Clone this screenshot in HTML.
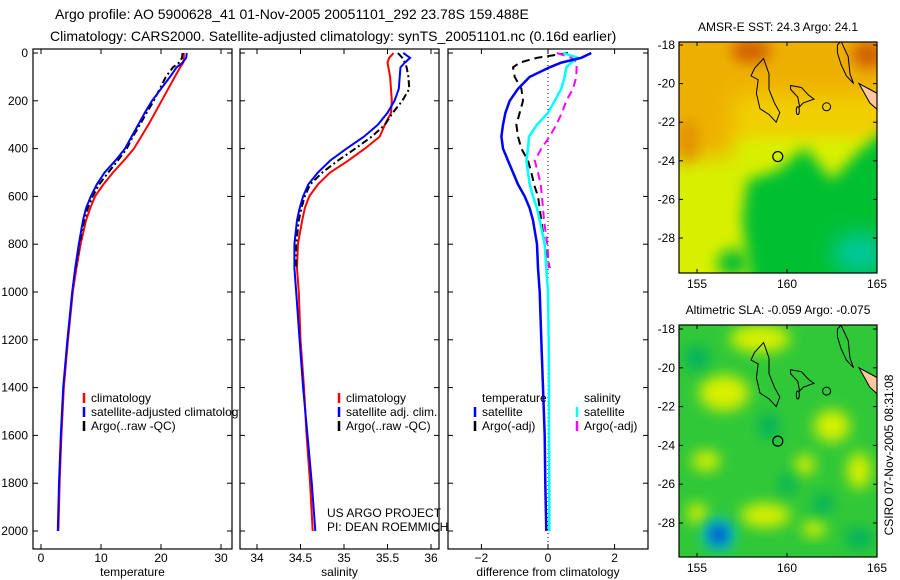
<!DOCTYPE html>
<html><head><meta charset="utf-8"><style>
body{margin:0;background:#fff;}
svg{display:block;font-family:"Liberation Sans",sans-serif;}
</style></head><body>
<svg id="chart" width="900" height="580" viewBox="0 0 900 580">
<defs>
<filter id="blur6" x="-50%" y="-50%" width="200%" height="200%"><feGaussianBlur stdDeviation="7"/></filter>
<filter id="blur10" x="-50%" y="-50%" width="200%" height="200%"><feGaussianBlur stdDeviation="11"/></filter>
<clipPath id="clipTop"><rect x="679" y="42" width="198" height="231"/></clipPath>
<clipPath id="clipBot"><rect x="679" y="325" width="198" height="232"/></clipPath>
<clipPath id="clipLeg1"><rect x="33" y="380" width="206" height="60"/></clipPath>
</defs>
<text x="55" y="19" font-size="14">Argo profile: AO 5900628_41 01-Nov-2005 20051101_292 23.78S 159.488E</text>
<text x="50" y="41" font-size="14">Climatology: CARS2000. Satellite-adjusted climatology: synTS_20051101.nc (0.16d earlier)</text>
<g id="g"></g>
</svg>
<script>
// ---- data ----
const depths = [0,20,40,60,100,150,200,250,300,350,400,450,500,550,600,650,700,800,900,1000,1200,1400,1600,1800,2000];
const tempClim = [23.8,23.8,23.7,23.2,22.3,21.2,20.1,19.0,17.9,16.7,15.5,13.8,12.0,10.4,9.0,8.2,7.5,6.6,5.9,5.3,4.5,3.8,3.4,3.1,2.9];
const tempSat  = [24.3,24.2,23.6,22.6,21.5,20.0,18.5,17.3,16.2,15.1,14.0,12.4,10.6,9.3,8.3,7.5,7.0,6.3,5.7,5.2,4.4,3.7,3.3,3.0,2.8];
const argoDepths = [0,20,40,60,100,150,200,250,300,350,400,450,500,550,600,650,700,800,900];
const tempArgo = [23.6,23.5,23.0,22.0,20.8,19.8,18.8,17.6,16.5,15.3,14.3,12.8,11.2,9.7,8.6,7.8,7.2,6.4,5.8];
const salClim = [35.57,35.52,35.5,35.51,35.53,35.54,35.55,35.54,35.47,35.41,35.24,35.05,34.84,34.7,34.6,34.55,34.52,34.47,34.46,34.48,34.5,34.54,34.57,34.61,34.64];
const salSat  = [35.68,35.76,35.7,35.65,35.64,35.63,35.58,35.5,35.39,35.23,35.03,34.84,34.7,34.59,34.53,34.49,34.46,34.43,34.43,34.45,34.49,34.53,34.58,34.63,34.67];
const salArgo = [35.62,35.67,35.7,35.72,35.74,35.75,35.67,35.56,35.47,35.32,35.13,34.93,34.75,34.61,34.55,34.51,34.48,34.45,34.45];
const dTempSat = [1.3,1.0,0.4,0.05,-0.55,-0.9,-1.15,-1.28,-1.35,-1.4,-1.35,-1.2,-1.05,-0.9,-0.7,-0.55,-0.45,-0.33,-0.3,-0.25,-0.2,-0.15,-0.1,-0.08,-0.05];
const dSalSat  = [0.45,0.9,0.7,0.55,0.5,0.4,0.2,0.0,-0.33,-0.57,-0.6,-0.65,-0.6,-0.55,-0.45,-0.33,-0.25,-0.1,-0.05,0.0,0.02,0.03,0.03,0.04,0.04];
const dTempArgo = [0.6,-0.33,-0.85,-1.05,-1.0,-0.8,-0.75,-0.85,-0.95,-0.9,-0.8,-0.6,-0.5,-0.42,-0.3,-0.25,-0.2,-0.1,0.05];
const dSalArgo = [0.27,0.7,0.87,0.86,0.85,0.75,0.55,0.42,0.25,0.05,-0.2,-0.4,-0.3,-0.22,-0.18,-0.15,-0.12,-0.02,0.03];
const depthTicks = [0,200,400,600,800,1000,1200,1400,1600,1800,2000];
const tempTicks = [0,10,20,30];
const salTicks = [34,34.5,35,35.5,36];
const diffTicks = [-2,0,2];
const latTicks = [18,20,22,24,26,28];
const lonTicks = [155,160,165];

// ---- helpers ----
const NS="http://www.w3.org/2000/svg";
const G=document.getElementById('g');
function mk(tag,attrs,parent){const e=document.createElementNS(NS,tag);for(const k in attrs)e.setAttribute(k,attrs[k]);(parent||G).appendChild(e);return e;}
const yD=d=>53+0.239*d;
const panels=[
 {x0:33,x1:232,f:v=>41+6*v,ticks:tempTicks,label:'temperature',name:'temperature-panel'},
 {x0:240,x1:439,f:v=>257+87*(v-34),ticks:salTicks,label:'salinity',name:'salinity-panel'},
 {x0:448,x1:648,f:v=>548+33.3*v,ticks:diffTicks,label:'difference from climatology',name:'difference-panel'}
];
const TOP=49,BOT=549;
panels.forEach((p,i)=>{
  const r=mk('rect',{x:p.x0,y:TOP,width:p.x1-p.x0,height:BOT-TOP,fill:'none',stroke:'#000','stroke-width':1.2});
  
  
  p.ticks.forEach(t=>{const x=p.f(t);
    mk('line',{x1:x,x2:x,y1:BOT,y2:BOT-5,stroke:'#000'});
    mk('line',{x1:x,x2:x,y1:TOP,y2:TOP+5,stroke:'#000'});
    const tx=mk('text',{x:x,y:562,'font-size':12,'text-anchor':'middle'});tx.textContent=(t<0?'\u2212'+(-t):t);
    
    
  });
  const xl=mk('text',{x:(p.x0+p.x1)/2,y:576,'font-size':12,'text-anchor':'middle'});xl.textContent=p.label;
  
  
  depthTicks.forEach(d=>{const y=yD(d);
    mk('line',{x1:p.x0,x2:p.x0+5,y1:y,y2:y,stroke:'#000'});
    mk('line',{x1:p.x1,x2:p.x1-5,y1:y,y2:y,stroke:'#000'});
    if(i===0){const t=mk('text',{x:28,y:y+4,'font-size':12,'text-anchor':'end'});t.textContent=d;
      
      }
  });
});
const zl=mk('line',{x1:548,x2:548,y1:TOP,y2:BOT,stroke:'#000','stroke-dasharray':'1,3'});



function series(p,ds,vals,color,dash,name,w){
  const pts=ds.map((d,k)=>p.f(vals[k]).toFixed(1)+','+yD(d).toFixed(1)).join(' ');
  const l=mk('polyline',{points:pts,fill:'none',stroke:color,'stroke-width':w||2,'stroke-dasharray':dash||'none'});
  
  
}
series(panels[0],depths,tempClim,'#f00',null,'temp-climatology-line');
series(panels[0],argoDepths,tempArgo,'#000','7,3,2,3','temp-argo-line');
series(panels[0],depths,tempSat,'#00f',null,'temp-satellite-line');
series(panels[1],depths,salClim,'#f00',null,'sal-climatology-line');
series(panels[1],argoDepths,salArgo,'#000','7,3,2,3','sal-argo-line');
series(panels[1],depths,salSat,'#00f',null,'sal-satellite-line');
series(panels[2],argoDepths,dTempArgo,'#000','8,5','diff-temp-argo-line');
series(panels[2],argoDepths,dSalArgo,'#f0f','8,5','diff-sal-argo-line');
series(panels[2],depths,dSalSat,'#0ff',null,'diff-sal-satellite-line',2.5);
series(panels[2],depths,dTempSat,'#00f',null,'diff-temp-satellite-line',2.5);

function legend(x,y,color,txt,name,clip){
  const par=clip?mk('g',{'clip-path':'url(#'+clip+')'}):G;
  if(color){mk('line',{x1:x,x2:x,y1:y-9,y2:y+1,stroke:color,'stroke-width':2.5},par);}
  const t=mk('text',{x:x+7,y:y,'font-size':12},par);t.textContent=txt;
  
  
}
legend(84,402,'#f00','climatology','legend-climatology');
legend(84,416,'#00f','satellite-adjusted climatology','legend-satellite-adjusted','clipLeg1');
legend(84,430,'#000','Argo(..raw -QC)','legend-argo');
legend(339,402,'#f00','climatology','legend-climatology-sal');
legend(339,416,'#00f','satellite adj. clim.','legend-satellite-sal');
legend(339,430,'#000','Argo(..raw -QC)','legend-argo-sal');
legend(475,402,null,'temperature','legend-temperature-header');
legend(475,416,'#00f','satellite','legend-temp-satellite');
legend(475,430,'#000','Argo(-adj)','legend-temp-argo');
legend(577,402,null,'salinity','legend-salinity-header');
legend(577,416,'#0ff','satellite','legend-sal-satellite');
legend(577,430,'#f0f','Argo(-adj)','legend-sal-argo');
const t1=mk('text',{x:327,y:517,'font-size':12});t1.textContent='US ARGO PROJECT';


const t2=mk('text',{x:327,y:531,'font-size':12});t2.textContent='PI: DEAN ROEMMICH';



// ---- maps ----
const lonX=l=>679+(l-154)*18;
function buildMap(top,bot,clip,latY,kind,title,name){
  const g=mk('g',{'clip-path':'url(#'+clip+')'});
  
  
  if(kind==='sst'){
    mk('rect',{x:679,y:top,width:198,height:bot-top,fill:'#d8f000'},g);
    mk('rect',{x:660,y:top-20,width:240,height:latY(22.8)-top+20,fill:'#f0d000',filter:'url(#blur6)'},g);
    mk('rect',{x:660,y:top-20,width:240,height:latY(20.6)-top+20,fill:'#eeb000',filter:'url(#blur10)'},g);
    mk('rect',{x:660,y:top-20,width:lonX(157)-660,height:latY(23.8)-top+20,fill:'#eeb000',filter:'url(#blur10)'},g);
    mk('ellipse',{cx:lonX(158),cy:latY(18.3),rx:20,ry:12,fill:'#d06000',filter:'url(#blur6)'},g);
    mk('ellipse',{cx:lonX(164.5),cy:latY(18.5),rx:16,ry:14,fill:'#d06000',filter:'url(#blur6)'},g);
    mk('ellipse',{cx:lonX(154.5),cy:latY(23),rx:10,ry:22,fill:'#e09000',filter:'url(#blur6)'},g);
    mk('path',{d:`M${lonX(157.5)} ${latY(27)} L${lonX(157.8)} ${latY(25)} L${lonX(159.5)} ${latY(24.5)} L${lonX(161)} ${latY(23.3)} L${lonX(162.5)} ${latY(25)} L${lonX(164)} ${latY(23.5)} L${lonX(166)} ${latY(22)} L${lonX(166)} ${latY(30.5)} L${lonX(158)} ${latY(30.5)} Z`,fill:'#00c030',filter:'url(#blur6)'},g);
    mk('ellipse',{cx:lonX(157),cy:latY(29.3),rx:16,ry:14,fill:'#10c030',filter:'url(#blur6)'},g);
    mk('ellipse',{cx:lonX(164),cy:latY(28.8),rx:26,ry:20,fill:'#00c8a0',filter:'url(#blur10)'},g);
  } else {
    mk('rect',{x:679,y:top,width:198,height:bot-top,fill:'#30c838'},g);
    const yb=[[158.5,18.5,30,14],[156.5,21.3,25,18],[162.5,23,18,16],[164,25.3,12,18],[158.8,27.6,25,12],[155.5,24.8,14,10],[161,25,10,10],[155,27.5,10,10],[161.5,28.3,12,8]];
    yb.forEach(b=>mk('ellipse',{cx:lonX(b[0]),cy:latY(b[1]),rx:b[2],ry:b[3],fill:'#d8f000',filter:'url(#blur6)'},g));
    const gb=[[155,19.5,12,12],[159,23,10,12],[160,26,8,10],[164,28.8,14,10],[162,27,10,10]];
    gb.forEach(b=>mk('ellipse',{cx:lonX(b[0]),cy:latY(b[1]),rx:b[2],ry:b[3],fill:'#00b060',filter:'url(#blur6)'},g));
    mk('ellipse',{cx:lonX(156.2),cy:latY(28.6),rx:16,ry:16,fill:'#00c0e0',filter:'url(#blur6)'},g);
    mk('ellipse',{cx:lonX(156.2),cy:latY(28.6),rx:8,ry:9,fill:'#0030c0',filter:'url(#blur6)'},g);
  }
  const isl=[[158.2,19.2],[158.7,18.7],[159,19.5],[159,20.3],[159.3,21],[159.6,21.5],[159.4,22],[159,21.6],[158.5,21.3],[158.3,20.5],[158.4,19.8],[158.0,19.6]];
  mk('path',{d:'M'+isl.map(p=>lonX(p[0])+' '+latY(p[1])).join(' L')+' Z',fill:'none',stroke:'#000','stroke-width':1},g);
  const chf=[[160.2,20.1],[160.8,20.2],[161.2,20.6],[161.5,20.8],[160.9,21],[160.7,21.2],[160.6,20.7],[160.2,20.3]];
  mk('path',{d:'M'+chf.map(p=>lonX(p[0])+' '+latY(p[1])).join(' L')+' Z',fill:'none',stroke:'#000','stroke-width':1},g);
  const nc=[[162.8,18],[163,17.8],[163.4,18.6],[163.5,19.5],[163.7,20],[163.3,19.6],[163,19],[162.8,18.4]];
  mk('path',{d:'M'+nc.map(p=>lonX(p[0])+' '+latY(p[1])).join(' L')+' Z',fill:'none',stroke:'#000','stroke-width':1},g);
  mk('ellipse',{cx:lonX(162.2),cy:latY(21.2),rx:4,ry:4,fill:'none',stroke:'#000'},g);
  mk('ellipse',{cx:lonX(160.6),cy:latY(21.4),rx:1.5,ry:4,fill:'none',stroke:'#000'},g);
  mk('path',{d:`M${lonX(164)} ${latY(20)} L${lonX(165.2)} ${latY(20.6)} L${lonX(165.2)} ${latY(21.5)} L${lonX(164.6)} ${latY(21)} Z`,fill:'#ffc8a0',stroke:'#000'},g);
  const c=mk('circle',{cx:lonX(159.488),cy:latY(23.78),r:5,fill:'none',stroke:'#000','stroke-width':1.2},g);
  
  
  const fr=mk('rect',{x:679,y:top,width:198,height:bot-top,fill:'none',stroke:'#000','stroke-width':1.2});
  
  
  latTicks.forEach(l=>{const y=latY(l);
    mk('line',{x1:679,x2:683,y1:y,y2:y,stroke:'#000'});
    mk('line',{x1:877,x2:873,y1:y,y2:y,stroke:'#000'});
    const t=mk('text',{x:675,y:y+4,'font-size':12,'text-anchor':'end'});t.textContent='-'+l;
    
    });
  lonTicks.forEach(l=>{const x=lonX(l);
    mk('line',{x1:x,x2:x,y1:bot,y2:bot-4,stroke:'#000'});
    mk('line',{x1:x,x2:x,y1:top,y2:top+4,stroke:'#000'});
    const t=mk('text',{x:x,y:bot+15,'font-size':12,'text-anchor':'middle'});t.textContent=l;
    
    });
  const tt=mk('text',{x:778,y:top-11,'font-size':12,'text-anchor':'middle'});tt.textContent=title;
  
  
}
buildMap(42,273,'clipTop',l=>45+(l-18)*19.3,'sst','AMSR-E SST: 24.3 Argo: 24.1','sst-map');
buildMap(325,557,'clipBot',l=>329+(l-18)*19.4,'sla','Altimetric SLA: -0.059 Argo: -0.075','sla-map');
const cs=mk('text',{x:0,y:0,'font-size':12,'text-anchor':'middle',transform:'translate(893,455) rotate(-90)'});
cs.textContent='CSIRO 07-Nov-2005 08:31:08';


</script>
</body></html>
